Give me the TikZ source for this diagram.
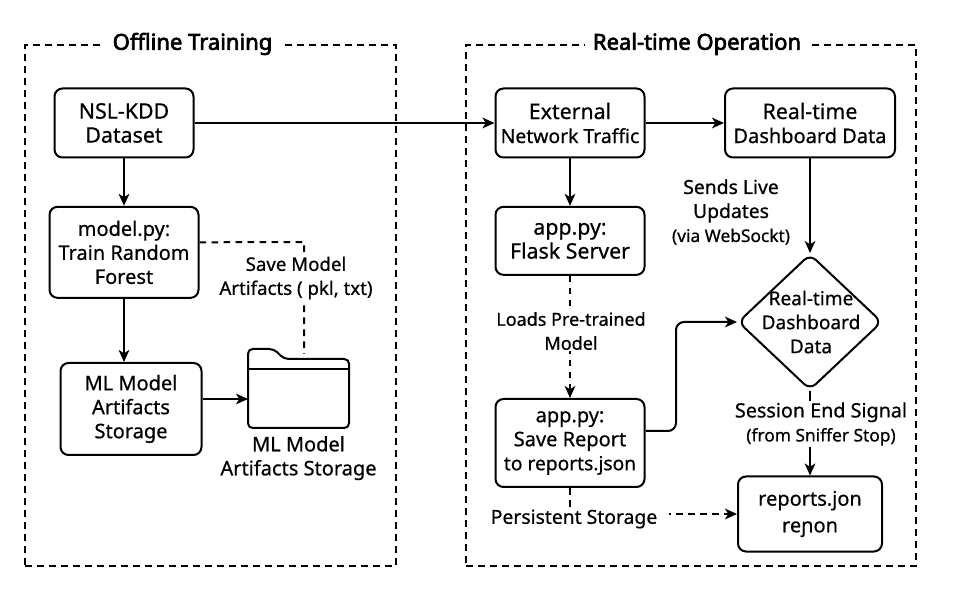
\documentclass[tikz,border=0pt]{standalone}
\usepackage{fontspec}
\setmainfont{Noto Sans}[FakeBold=0.6]
\newfontfamily\titlefont{Noto Sans}[FakeBold=3]
\usetikzlibrary{arrows.meta, positioning, shapes.geometric}

\newcommand{\textat}[1]{\fontsize{#1}{18}\selectfont}
\tikzset{
    block/.style={draw, rounded corners=6pt, align=center, inner sep=0pt},
    groupframe/.style={draw, dash pattern=on 5.2pt off 3.8pt, line width=1.1pt},
    grouptitle/.style={fill=white, inner xsep=6pt, inner ysep=1pt, font=\titlefont\fontsize{16.5}{20}\selectfont},
    note/.style={fill=white, align=center, inner sep=1pt},
    flow/.style={dash pattern=on 5pt off 4pt}
}

\begin{document}
\begin{tikzpicture}[->,>={Stealth[length=9pt,width=8pt,inset=2.5pt]},x=0.75pt,y=-0.75pt,line width=1.5pt,
        font=\textat{15}]
    \useasboundingbox (0,0) rectangle (953,605);

    \node[groupframe, minimum width=278.25pt, minimum height=390.75pt] (offline) at (210.5,305.5) {};
    \node[groupframe, minimum width=337.5pt, minimum height=390.75pt] (realtime) at (691,305.5) {};
    \node[grouptitle] (offlinetitle) at (192.5,44) {Offline Training};
    \node[grouptitle] (realtimetitle) at (697,44) {Real-time Operation};

    % offline side
    \node[block, font=\textat{16}, minimum width=104.25pt, minimum height=51.75pt] (dataset) at (124,123) {NSL-KDD\\Dataset};
    \node[block, minimum width=111.75pt, minimum height=68.25pt, below=35.5pt of dataset] (model) {model.py:\\Train Random\\Forest};
    \node[block, minimum width=105.75pt, minimum height=69pt] (artifacts) at (131,409) {ML Model\\Artifacts\\Storage};
    \node[minimum width=74.25pt, minimum height=57.75pt, inner sep=0pt] (folder) at (298.5,388.5) {};
    \draw[-, rounded corners=3.5pt] (folder.south west) -- (folder.north west) -- ++(26,0) -- ++(10,10)
        -- ([yshift=-7.5pt]folder.north east) -- (folder.south east) -- cycle;
    \draw[-, line cap=round] ([yshift=-15pt]folder.north west) -- ([yshift=-15pt]folder.north east);
    \node[align=center, below=2pt of folder] (foldername) {ML Model\\Artifacts Storage};

    \coordinate (savecorner) at (304,242);
    \coordinate (savedrop) at (304,354);
    \draw[-, flow] ([yshift=7.5pt]model.east) -- (savecorner) -- (savedrop);
    \node[note, font=\textat{14}] (savenote) at (296,278) {Save Model\\Artifacts ( pkl, txt)};

    % real-time side
    \node[block, minimum width=111.75pt, minimum height=51.75pt] (external) at (570,123) {{\textat{16}External}\\{\textat{14.5}Network Traffic}};
    \node[block, minimum width=127.5pt, minimum height=51.75pt] (dashdata) at (810,123) {{\textat{16}Real-time}\\Dashboard Data};
    \node[block, font=\textat{16}, minimum width=111.75pt, minimum height=51pt, below=35.5pt of external] (flask) {app.py:\\Flask Server};
    \node[block, minimum width=111.75pt, minimum height=66pt] (savereport) at (570,443) {app.py:\\Save Report\\{\textat{14.4}to reports.json}};
    \node[draw, diamond, rounded corners=6pt, minimum width=108pt, minimum height=102pt, inner sep=0pt] (decision) at (810,322) {};
    \node[align=center, font=\textat{14.3}] (decisiontext) at (811,322) {Real-time\\Dashboard\\Data};
    \node[block, minimum width=108pt, minimum height=56.25pt] (reports) at (810,514) {reports.jon\\[2pt]re\char"0272on};

    \coordinate (riser) at (676,322);
    \coordinate (storagebend) at (570,514);

    \path
    (dataset) edge (model)
    (dataset) edge (external)
    (model) edge (model |- artifacts.north)
    ([yshift=7.5pt]artifacts.east) edge ([yshift=7.5pt]artifacts.east -| folder.west)
    (external) edge (dashdata)
              edge (flask)
    (dashdata) edge (decision)
    (decision) edge (reports)
    ;
    \draw[flow] (flask) -- (savereport);
    \draw[rounded corners=6pt] ([yshift=9pt]savereport.east) -| (riser) -- (decision.west);
    \draw[flow] (savereport) -- (storagebend) -- (reports.west);

    \node[note, font=\textat{14.5}] (sendsnote) at (731,212) {Sends Live\\Updates\\{\textat{13}(via WebSockt)}};
    \node[note, font=\textat{13.5}] (loadsnote) at (571,331) {Loads Pre-trained\\Model};
    \node[note, font=\textat{14.8}] (sessionnote) at (821,424) {Session End Signal\\{\textat{13}(from Sniffer Stop)}};
    \node[note, font=\textat{14.5}, inner xsep=9pt] (storagenote) at (574,519) {Persistent Storage};
\end{tikzpicture}
\end{document}
